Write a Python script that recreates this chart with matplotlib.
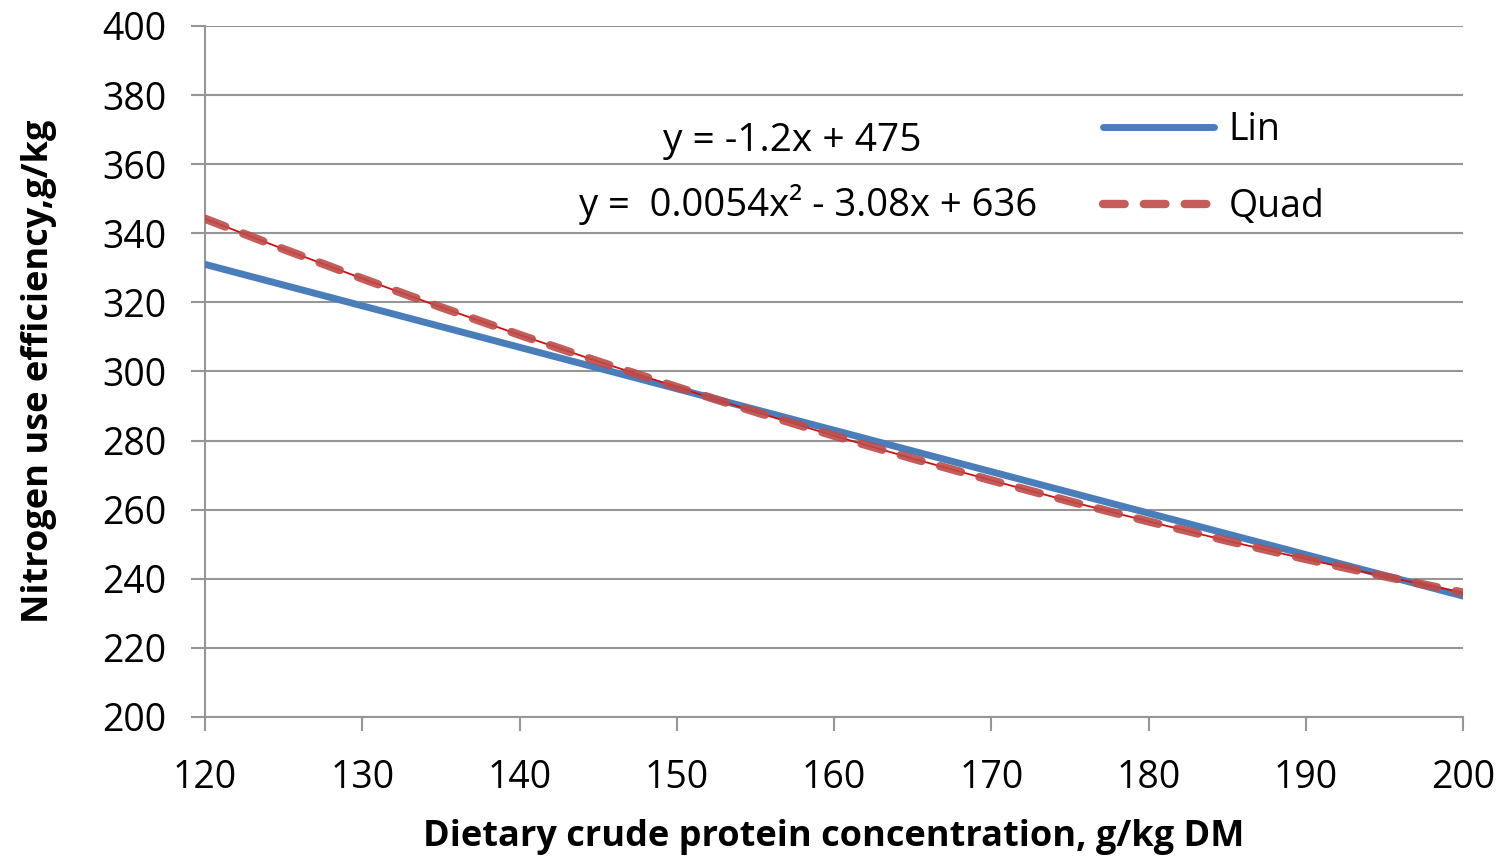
import matplotlib.pyplot as plt

plt.rcParams['font.family'] = ['Open Sans', 'DejaVu Sans']

# values (fitted lines at 5 g/kg steps)
crude_protein = [120, 125, 130, 135, 140, 145, 150, 155, 160, 165, 170, 175, 180, 185, 190, 195, 200]
nue_lin = [331, 325, 319, 313, 307, 301, 295, 289, 283, 277, 271, 265, 259, 253, 247, 241, 235]
nue_quad = [344.2, 335.4, 326.9, 318.6, 310.6, 302.9, 295.5, 288.3, 281.4, 274.8, 268.5,
            262.4, 256.6, 251.0, 245.7, 240.7, 236.0]

series_names = ['Lin', 'Quad']
eq_lin = 'y = -1.2x + 475'
eq_quad = 'y =  0.0054x\u00b2 - 3.08x + 636'

blue = '#4A7EBB'
red = '#BE4B48'
grey = '#969696'

fig = plt.figure(figsize=(14.99, 8.6), dpi=100)
ax = fig.add_axes([0.1368, 0.1663, 0.976 - 0.1368, 0.9698 - 0.1663])

ax.plot(crude_protein, nue_lin, color=blue, lw=5, solid_capstyle='round', label=series_names[0], zorder=3)
ax.plot(crude_protein, nue_quad, color='#D01010', lw=1.3, zorder=4)
ax.plot(crude_protein, nue_quad, color=red, lw=6, ls=(0, (2.6, 2.3)), dash_capstyle='round',
        alpha=0.9, label=series_names[1], zorder=5)

ax.set_xlim(120, 200)
ax.set_ylim(200, 400)
ax.set_xticks(range(120, 201, 10))
ax.set_yticks(range(200, 401, 20))
ax.grid(axis='y', color=grey, lw=1.5)
ax.set_axisbelow(True)

for s in ['top', 'right']:
    ax.spines[s].set_visible(False)
for s in ['left', 'bottom']:
    ax.spines[s].set_color(grey)
    ax.spines[s].set_linewidth(1.5)
ax.tick_params(axis='both', color=grey, width=1.5, length=10, labelsize=27)
ax.tick_params(axis='y', pad=18)
ax.tick_params(axis='x', pad=20)

ax.set_xlabel('Dietary crude protein concentration, g/kg DM', fontsize=26, fontweight='bold', labelpad=16)
ax.set_ylabel('Nitrogen use efficiency,g/kg', fontsize=26, fontweight='bold', labelpad=32)

ax.text(0.467, 0.833, eq_lin, transform=ax.transAxes, fontsize=28, ha='center', va='center')
ax.text(0.479, 0.742, eq_quad, transform=ax.transAxes, fontsize=27.5, ha='center', va='center')

leg = ax.legend(loc='upper left', bbox_to_anchor=(0.687, 0.926), frameon=False, fontsize=27,
                handlelength=2.95, handletextpad=0.4, labelspacing=1.05)

fig.savefig('out.png', dpi=100)
